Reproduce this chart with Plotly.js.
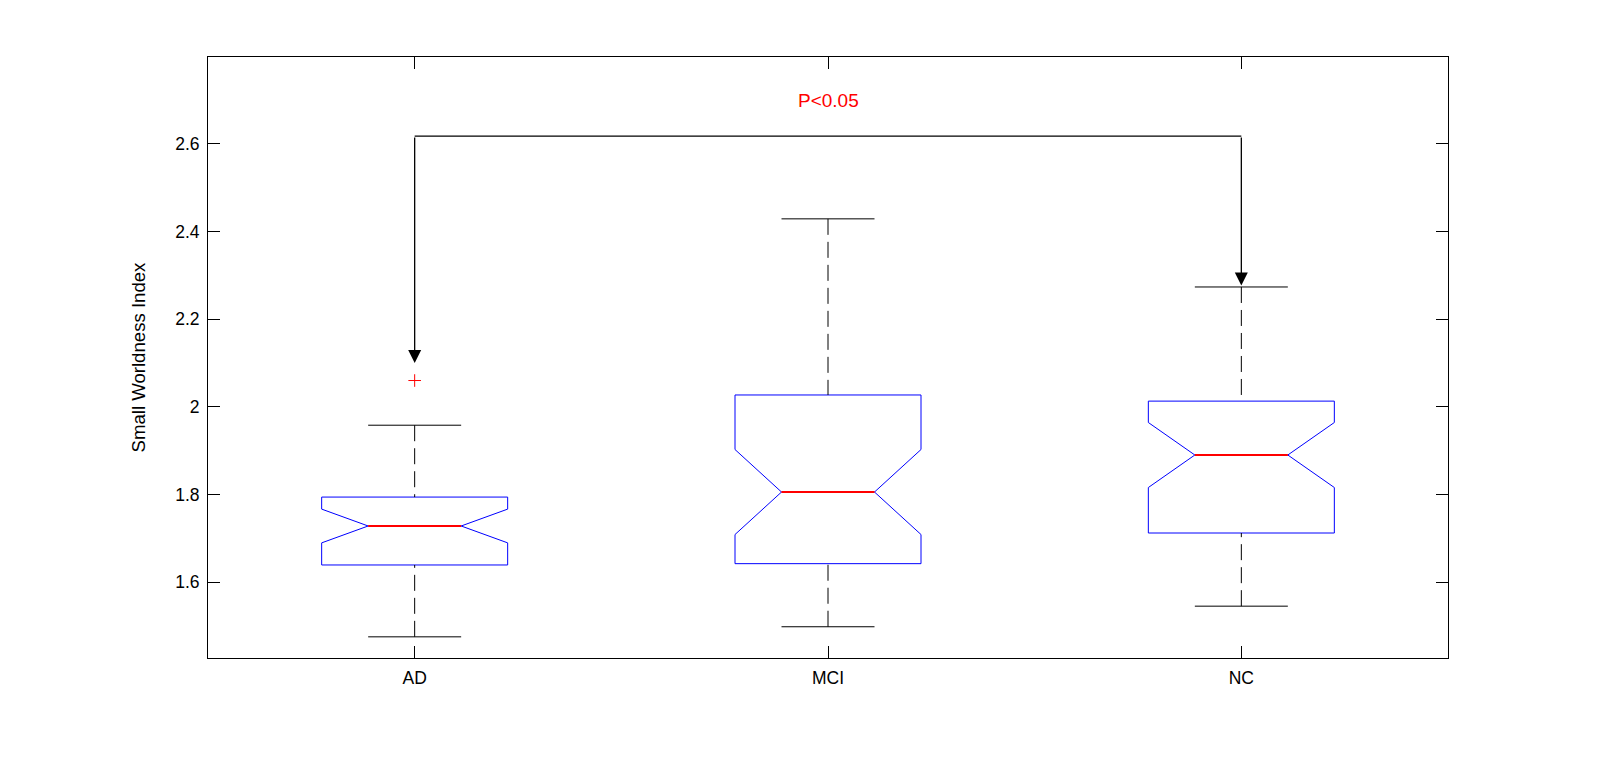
<!DOCTYPE html>
<html>
<head>
<meta charset="utf-8">
<script src="https://cdn.plot.ly/plotly-3.0.1.min.js"></script>
<style>html,body{margin:0;padding:0;background:#fff;}#chart{width:1600px;height:760px;}</style>
</head>
<body>
<div id="chart"></div>
<script>
// ---- data ----
const categories    = ['AD', 'MCI', 'NC'];
const q1Values      = [1.639, 1.642, 1.712];
const medianValues  = [1.728, 1.8055, 1.890];
const q3Values      = [1.794, 2.027, 2.013];
const lowerWhisker  = [1.475, 1.498, 1.545];
const upperWhisker  = [1.958, 2.429, 2.2735];
const notchSpan     = [0.0385, 0.097, 0.0742];
const outlierGroup  = ['AD'];
const outlierValues = [2.060];
const yTickVals     = [1.6, 1.8, 2.0, 2.2, 2.4, 2.6];
const yTickText     = ['1.6', '1.8', '2', '2.2', '2.4', '2.6'];
const sigGroups     = ['AD', 'NC'];
const sigArrowTips  = [2.10, 2.277];
const sigBracketY   = 2.618;
const sigLabel      = 'P&lt;0.05';
const sigLabelY     = 2.70;

// ---- styling ----
const FONT = 'Liberation Sans, Arial, Helvetica, sans-serif';
const BOX_WIDTH = 0.45;
const CAP_HALF = BOX_WIDTH / 4;
const NOTCH_WIDTH = 0.25;
const pos = categories.map((c, i) => i + 1);
const posOf = c => categories.indexOf(c) + 1;

const traces = [];

// notched boxes (whiskers collapsed; drawn separately in MATLAB style)
traces.push({
  type: 'box',
  x: pos,
  q1: q1Values,
  median: medianValues,
  q3: q3Values,
  lowerfence: q1Values,
  upperfence: q3Values,
  notchspan: notchSpan,
  notched: true,
  notchwidth: NOTCH_WIDTH,
  width: BOX_WIDTH,
  boxpoints: false,
  whiskerwidth: 0,
  line: {color: '#0000ff', width: 1},
  fillcolor: 'rgba(0,0,0,0)',
  hoverinfo: 'skip',
  showlegend: false
});

pos.forEach((p, i) => {
  // dashed whiskers
  traces.push({
    type: 'scatter', mode: 'lines',
    x: [p, p], y: [upperWhisker[i], q3Values[i]],
    line: {color: '#000000', width: 1, dash: '16px,7px'},
    hoverinfo: 'skip', showlegend: false
  });
  traces.push({
    type: 'scatter', mode: 'lines',
    x: [p, p], y: [lowerWhisker[i], q1Values[i]],
    line: {color: '#000000', width: 1, dash: '16px,7px'},
    hoverinfo: 'skip', showlegend: false
  });
  // caps
  traces.push({
    type: 'scatter', mode: 'lines',
    x: [p - CAP_HALF, p + CAP_HALF], y: [upperWhisker[i], upperWhisker[i]],
    line: {color: '#000000', width: 1},
    hoverinfo: 'skip', showlegend: false
  });
  traces.push({
    type: 'scatter', mode: 'lines',
    x: [p - CAP_HALF, p + CAP_HALF], y: [lowerWhisker[i], lowerWhisker[i]],
    line: {color: '#000000', width: 1},
    hoverinfo: 'skip', showlegend: false
  });
  // red median (spans the narrowed notch waist)
  const mh = BOX_WIDTH / 2 * (1 - 2 * NOTCH_WIDTH);
  traces.push({
    type: 'scatter', mode: 'lines',
    x: [p - mh, p + mh], y: [medianValues[i], medianValues[i]],
    line: {color: '#ff0000', width: 2},
    hoverinfo: 'skip', showlegend: false
  });
});

// outliers
traces.push({
  type: 'scatter', mode: 'markers',
  x: outlierGroup.map(posOf), y: outlierValues,
  marker: {symbol: 'cross-thin-open', size: 9, color: '#ff0000', line: {color: '#ff0000', width: 1}},
  hoverinfo: 'skip', showlegend: false
});

// significance bracket
const xa = posOf(sigGroups[0]), xb = posOf(sigGroups[1]);
const shapes = [{
  type: 'line', xref: 'x', yref: 'y',
  x0: xa, x1: xb, y0: sigBracketY, y1: sigBracketY,
  line: {color: '#000000', width: 1.3}
}];
const annotations = [xa, xb].map((xp, k) => ({
  x: xp, y: sigArrowTips[k], xref: 'x', yref: 'y',
  ax: xp, ay: sigBracketY, axref: 'x', ayref: 'y',
  text: '', showarrow: true, arrowhead: 2, arrowsize: 2.0, arrowwidth: 1.3,
  arrowcolor: '#000000', standoff: 0, startstandoff: 0
}));
annotations.push({
  x: (xa + xb) / 2, y: sigLabelY, xref: 'x', yref: 'y',
  text: sigLabel, showarrow: false,
  font: {family: FONT, size: 19, color: '#ff0000'}
});

const axisCommon = {
  showline: true, linecolor: '#000000', linewidth: 1, mirror: 'ticks',
  ticks: 'inside', ticklen: 12, tickwidth: 1, tickcolor: '#000000',
  showgrid: false, zeroline: false,
  tickfont: {family: FONT, size: 17.5, color: '#000000'}
};

const layout = {
  width: 1600, height: 760,
  margin: {l: 208, r: 152, t: 57, b: 102},
  paper_bgcolor: '#ffffff', plot_bgcolor: '#ffffff',
  showlegend: false,
  font: {family: FONT, color: '#000000'},
  xaxis: Object.assign({}, axisCommon, {
    range: [0.5, 3.5], tickvals: pos, ticktext: categories, ticklabelstandoff: 4
  }),
  yaxis: Object.assign({}, axisCommon, {
    range: [1.4267, 2.7984], tickvals: yTickVals, ticktext: yTickText, ticklabelstandoff: 4,
    title: {text: 'Small Worldness Index', font: {family: FONT, size: 18.6, color: '#000000'}, standoff: 24}
  }),
  shapes: shapes,
  annotations: annotations
};

Plotly.newPlot('chart', traces, layout, {displayModeBar: false, staticPlot: true});
</script>
</body>
</html>
